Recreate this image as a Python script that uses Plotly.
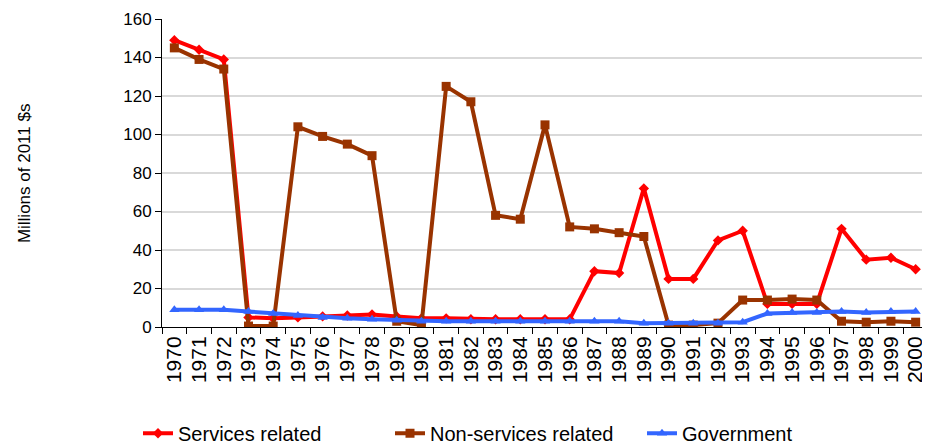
import plotly.graph_objects as go

years = [str(y) for y in range(1970, 2001)]
services = [149, 144, 139, 5, 4.5, 5, 5.5, 6, 6.5, 5.5, 4.5, 4.5, 4, 4, 4, 4, 4, 29, 28, 72,
            25, 25, 45, 50, 12, 12, 12, 51, 35, 36, 30]
non_services = [145, 139, 134, 0.5, 0.5, 104, 99, 95, 89, 3, 1, 125, 117, 58, 56, 105, 52, 51, 49, 47,
                1, 1, 2, 14, 14, 14.5, 14, 3, 2.5, 3, 2.5]
government = [9, 9, 9, 8, 7, 6, 5, 4.5, 4, 3.5, 3, 3, 3, 3, 3, 3, 3, 3, 3, 2,
              2, 2, 2, 2.5, 7, 7.5, 7.5, 8, 7.5, 8, 8]
y_ticks = [0, 20, 40, 60, 80, 100, 120, 140, 160]

fig = go.Figure()
fig.add_trace(go.Scatter(x=years, y=services, name="Services related", mode="lines+markers",
                         line=dict(color="#FF0000", width=4),
                         marker=dict(symbol="diamond", size=8, color="#FF0000")))
fig.add_trace(go.Scatter(x=years, y=non_services, name="Non-services related", mode="lines+markers",
                         line=dict(color="#993300", width=4),
                         marker=dict(symbol="square", size=9, color="#993300")))
fig.add_trace(go.Scatter(x=years, y=government, name="Government", mode="lines+markers",
                         line=dict(color="#3366FF", width=4),
                         marker=dict(symbol="triangle-up", size=9, color="#3366FF")))

fam = "Liberation Sans, Arial, sans-serif"
def f(s):
    return dict(family=fam, size=s, color="#000000")

fig.update_layout(
    width=922, height=437,
    margin=dict(l=154, r=2, t=11, b=118, autoexpand=False),
    paper_bgcolor="white", plot_bgcolor="white",
    font=f(16),
    showlegend=True,
    legend=dict(orientation="h", xref="container", x=0.141, xanchor="left",
                yref="container", y=0.027, yanchor="middle",
                entrywidth=207, entrywidthmode="pixels", font=f(20),
                itemsizing="trace"),
    xaxis=dict(type="category", tickson="boundaries", ticks="outside", ticklen=6,
               tickmode="array", tickvals=years, ticktext=years,
               tickcolor="#000000", showline=True, linecolor="#000000", linewidth=1,
               tickangle=-90, showgrid=False, tickfont=f(21), range=[-0.5, 30.5]),
    yaxis=dict(range=[0, 160], tickvals=y_ticks, ticks="outside", ticklen=6,
               tickcolor="#000000", showline=True, linecolor="#000000", linewidth=1,
               showgrid=True, gridcolor="#D9D9D9", gridwidth=1.5, tickfont=f(17),
               zeroline=False),
    annotations=[dict(text="Millions of 2011 $s", xref="paper", yref="paper",
                      x=-0.18, y=0.5, xanchor="center", yanchor="middle",
                      textangle=-90, showarrow=False, font=f(17))],
)
fig.write_html("out.html")
